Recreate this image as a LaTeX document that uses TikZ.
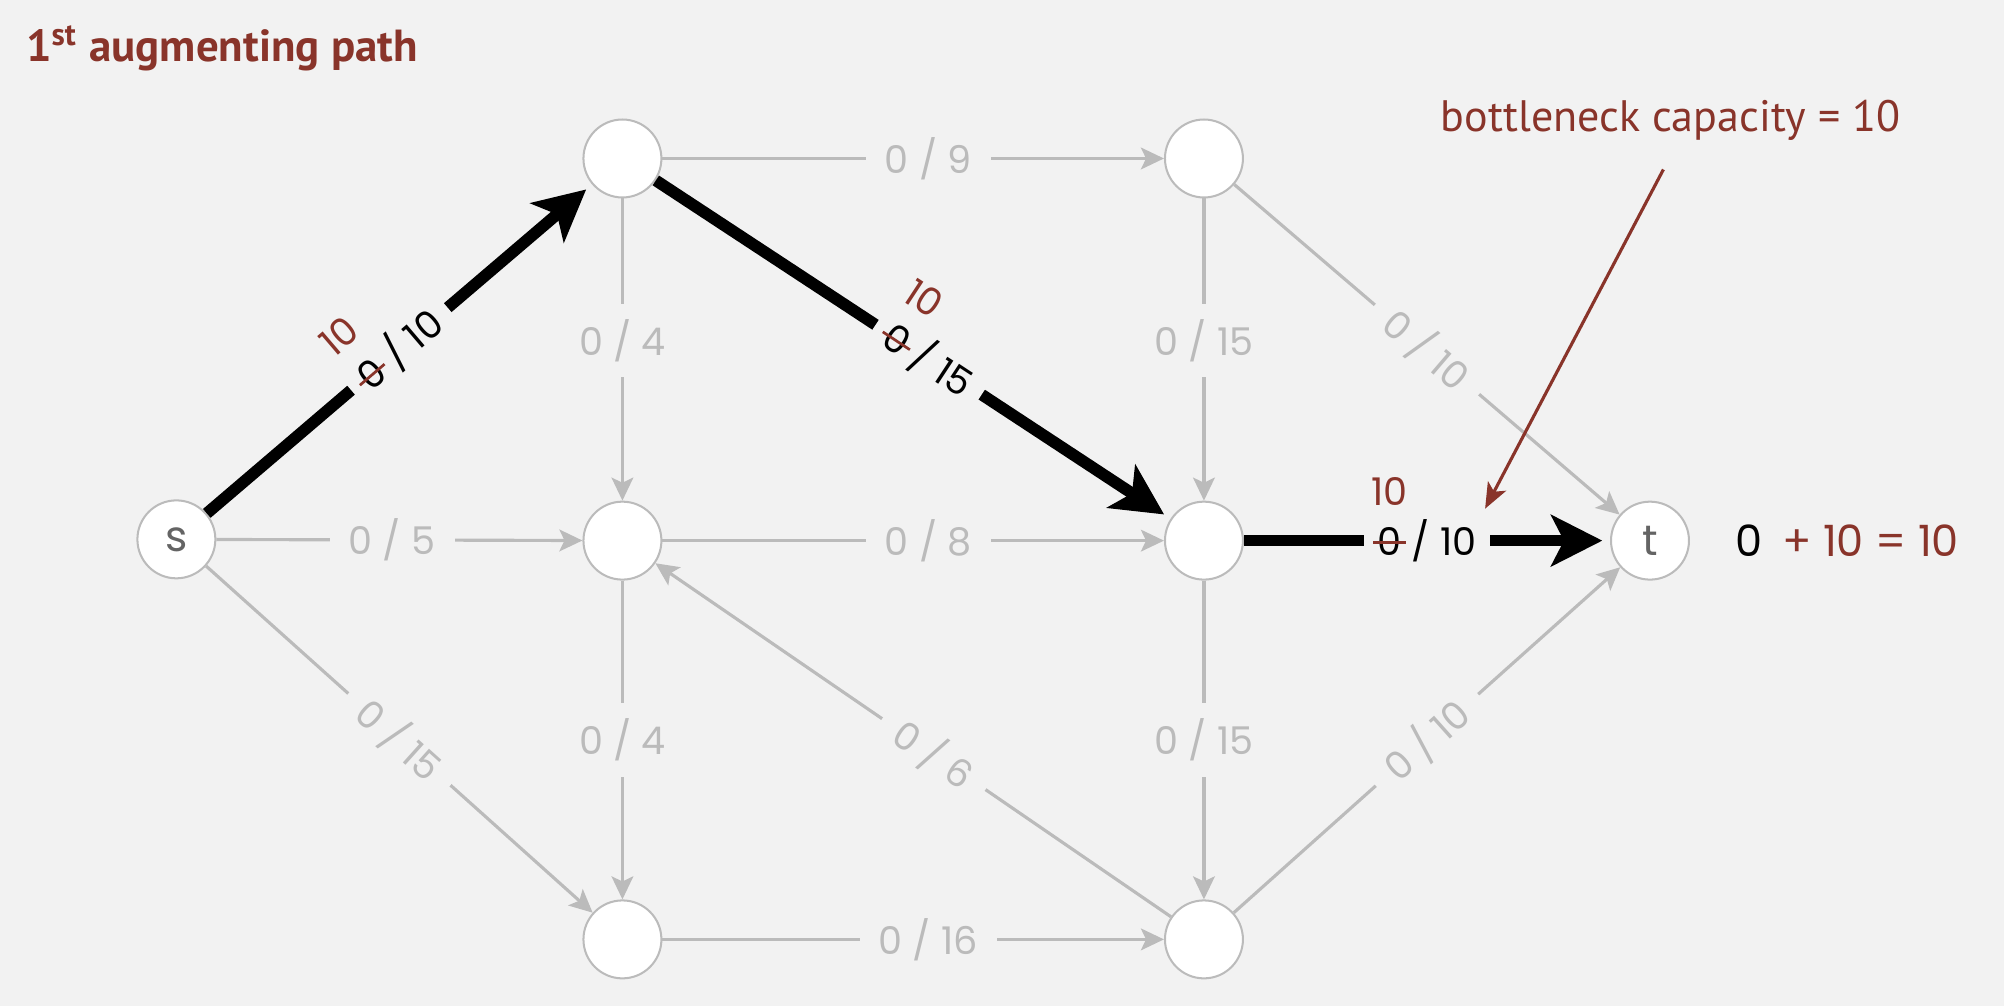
\documentclass[tikz,border=0pt]{standalone}
\usepackage{fontspec}
\setmainfont{PT Sans}
\newfontfamily\geofont{Poppins}
\usetikzlibrary{arrows.meta,positioning}
\definecolor{bg}{RGB}{242,242,242}
\definecolor{edgegray}{RGB}{187,187,187}
\definecolor{flowred}{RGB}{137,52,42}
\definecolor{nodetext}{RGB}{100,100,100}
\newcommand{\oldflow}[2]{\ooalign{#1\cr\hidewidth\textcolor{flowred}{\rule[0.3em]{0.85em}{0.6pt}}\hidewidth\cr\hidewidth\smash{\raisebox{11pt}{\textcolor{flowred}{#2}}}\hidewidth\cr}}
\begin{document}
\begin{tikzpicture}[
    every node/.style={font=\geofont\fontsize{8.5}{10}\selectfont},
    vertex/.style={circle,draw=edgegray,line width=0.45pt,fill=white,minimum size=6.1mm,inner sep=0pt,text=nodetext,font=\geofont\fontsize{9.5}{10}\selectfont},
    edge/.style={edgegray,line width=0.7pt,-{Stealth[length=1.8mm,width=1.7mm,inset=0.4mm]}},
    flow/.style={black,line width=2.6pt,shorten >=0.6mm,-{Stealth[length=4mm,width=4mm,inset=1mm]}},
    caplbl/.style={fill=bg,text=edgegray,inner xsep=1.5mm,inner ysep=1.2mm},
    flowlbl/.style={fill=bg,text=black,inner xsep=1.1mm,inner ysep=1mm},
    annot/.style={flowred,line width=0.7pt,-{Stealth[length=2mm,width=1.6mm,inset=0.5mm]}},
  ]
    \fill[bg] (0,0) rectangle (15.68,7.87);
    \node[anchor=base west,text=flowred,font=\bfseries\fontsize{10}{12}\selectfont] (title) at (0.08,7.385) {1\textsuperscript{st} augmenting path};

    \node[vertex] (s) at (1.38,3.65) {s};
    \node[vertex] (a) at (4.87,6.63) {};
    \node[vertex] (b) at (9.42,6.63) {};
    \node[vertex] (c) at (4.87,3.64) {};
    \node[vertex] (d) at (9.42,3.64) {};
    \node[vertex] (t) at (12.91,3.64) {t};
    \node[vertex] (e) at (4.87,0.52) {};
    \node[vertex] (f) at (9.42,0.52) {};

    \draw[edge] (s) -- node[caplbl,pos=0.48] {0 / 5} (c);
    \draw[edge] (s) -- node[caplbl,sloped] {0 / 15} (e);
    \draw[edge] (a) -- node[caplbl,pos=0.53] {0 / 9} (b);
    \draw[edge] (a) -- node[caplbl,pos=0.47] {0 / 4} (c);
    \draw[edge] (b) -- node[caplbl,pos=0.47] {0 / 15} (d);
    \draw[edge] (b) -- node[caplbl,sloped] {0 / 10} (t);
    \draw[edge] (c) -- node[caplbl,pos=0.53] {0 / 8} (d);
    \draw[edge] (c) -- node[caplbl] {0 / 4} (e);
    \draw[edge] (d) -- node[caplbl] {0 / 15} (f);
    \draw[edge] (f) -- node[caplbl,sloped,pos=0.46] {0 / 6} (c);
    \draw[edge] (f) -- node[caplbl,sloped] {0 / 10} (t);
    \draw[edge] (e) -- node[caplbl,pos=0.53] {0 / 16} (f);

    \draw[flow] (s) -- node[flowlbl,sloped] {\oldflow{0}{10} / 10} (a);
    \draw[flow] (a) -- node[flowlbl,sloped,pos=0.53] {\oldflow{0}{10} / 15} (d);
    \draw[flow] (d) -- node[flowlbl] {\oldflow{0}{10} / 10} (t);

    \node[right=3.5mm of t,inner sep=0pt,font=\geofont\fontsize{9.6}{10}\selectfont] (total) {0\hspace{0.45em}\textcolor{flowred}{+ 10 = 10}};

    \node[anchor=base west,text=flowred,font=\fontsize{9.8}{12}\selectfont] (bneck) at (11.15,6.845) {bottleneck capacity = 10};
    \coordinate (bneckTip) at (11.62,3.89);
    \draw[annot,shorten <=1.2mm] (bneck.south) -- (bneckTip);
\end{tikzpicture}
\end{document}
